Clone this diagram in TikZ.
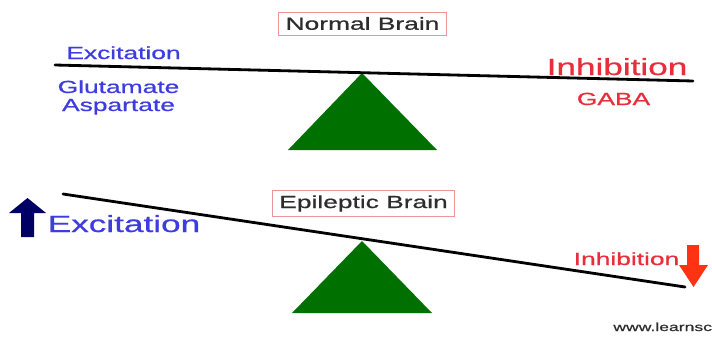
\documentclass[tikz,border=0pt]{standalone}
\usepackage{fontspec}
\setmainfont{Liberation Sans}[FakeBold=0.6]
\definecolor{excblue}{RGB}{60,60,225}
\definecolor{inhred}{RGB}{232,46,58}
\definecolor{boxred}{RGB}{238,150,150}
\definecolor{labelgray}{RGB}{45,45,45}
\definecolor{fulcrum}{RGB}{0,112,0}
\definecolor{upnavy}{RGB}{0,0,100}
\definecolor{downred}{RGB}{255,50,20}
\tikzset{
  lbl/.style={inner sep=0pt, anchor=base, xscale=1.5},
  brainbox/.style={draw=boxred, line width=0.5pt, text=labelgray, inner xsep=4pt, inner ysep=4.3pt, xscale=1.5, font=\fontsize{15}{18}\selectfont},
  beam/.style={line width=2.4pt, line cap=round},
}
\begin{document}
\begin{tikzpicture}[x=0.03cm,y=-0.03cm]
\useasboundingbox (0,0) rectangle (712,338);
\fill[fulcrum] (288,150) -- (362,73) -- (437,150) -- cycle;
\fill[fulcrum] (292,313) -- (362,241) -- (432,313) -- cycle;
\coordinate (topl) at (55,65);
\coordinate (topr) at (693,81);
\coordinate (botl) at (63,194);
\coordinate (botr) at (685,287);
\draw[beam] (topl) -- (topr);
\draw[beam] (botl) -- (botr);
\node[brainbox] (normal) at (362.5,23.5) {Normal Brain};
\node[brainbox] (epileptic) at (363.5,203.5) {Epileptic Brain};
\node[lbl, text=excblue, font=\fontsize{15}{18}\selectfont] (exctop) at (123.5,59) {Excitation};
\node[lbl, text=excblue, font=\fontsize{15}{18}\selectfont] (glu) at (118.5,93) {Glutamate};
\node[lbl, text=excblue, font=\fontsize{15}{18}\selectfont] (asp) at (118.5,111) {Aspartate};
\node[lbl, text=inhred, font=\fontsize{20}{24}\selectfont] (inhtop) at (617,75) {Inhibition};
\node[lbl, text=inhred, font=\fontsize{15}{18}\selectfont] (gaba) at (613.5,105) {GABA};
\node[lbl, text=excblue, font=\fontsize{20}{24}\selectfont] (excbot) at (124,232) {Excitation};
\node[lbl, text=inhred, font=\fontsize{15}{18}\selectfont] (inhbot) at (626.5,265) {Inhibition};
\node[lbl, text=labelgray, font=\fontsize{10}{12}\selectfont, anchor=base west] (site) at (613,331) {www.learnsc};
\fill[upnavy] (21,237) -- (21,213) -- (9,213) -- (27.5,198) -- (46,213) -- (34,213) -- (34,237) -- cycle;
\fill[downred] (687,245) -- (699,245) -- (699,265) -- (708,265) -- (693.5,287) -- (679,265) -- (687,265) -- cycle;
\end{tikzpicture}
\end{document}
